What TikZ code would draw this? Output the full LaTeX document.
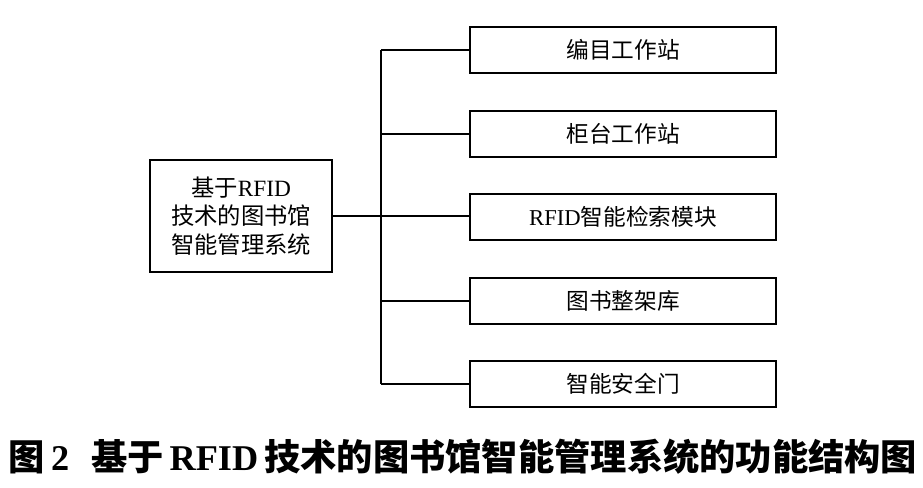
\documentclass[tikz,border=0pt]{standalone}
\usepackage{fontspec}
\setmainfont{Liberation Serif}
\newfontfamily\cjk{Noto Sans CJK SC}
\begin{document}
\begin{tikzpicture}[x=0.75pt,y=-0.75pt,
    box/.style={draw,line width=1.4pt,minimum width=229pt,minimum height=35pt,inner sep=0pt,font=\fontsize{17}{20}\selectfont},
    conn/.style={line width=1.4pt}]
        \useasboundingbox (0,0) rectangle (923,488);
        \node [draw,line width=1.4pt,minimum width=137pt,minimum height=84pt,align=center,
               font=\fontsize{17.5}{21.5}\selectfont] (sys) at (241,216)
              {{\cjk 基于}RFID\\{\cjk 技术的图书馆}\\{\cjk 智能管理系统}};
        \node [box] (b1) at (623,50) {\cjk 编目工作站};
        \node [box] (b2) at (623,134) {\cjk 柜台工作站};
        \node [box] (b3) at (623,217) {RFID{\cjk 智能检索模块}};
        \node [box] (b4) at (623,301) {\cjk 图书整架库};
        \node [box] (b5) at (623,384) {\cjk 智能安全门};
        \coordinate (top) at (381,50);
        \coordinate (bot) at (381,384);
        \draw [conn] (top) -- (bot);
        \draw [conn] (sys.east) -- (sys.east -| b3.west);
        \foreach \i in {1,2,4,5}
            \draw [conn] (b\i.west) -- (b\i.west -| top);
        \node (cap) at (463,457) {\fontsize{27.2}{30}\selectfont\bfseries{\cjk 图}\,2\hspace{0.6em}{\cjk 基于}\,RFID\,{\cjk 技术的图书馆智能管理系统的功能结构图}};
    \end{tikzpicture}
\end{document}
